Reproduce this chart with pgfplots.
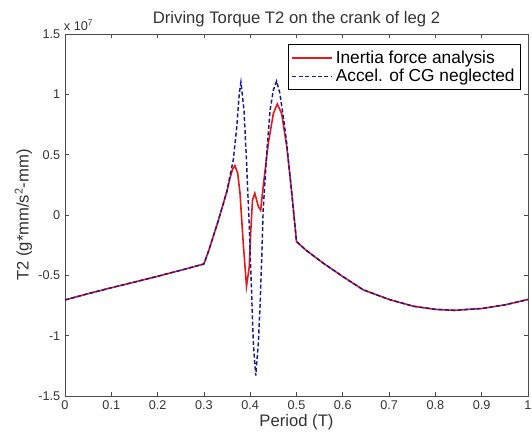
\documentclass[border=0pt]{standalone}
\usepackage{pgfplots}
\pgfplotsset{compat=1.18}
\usepackage{fontspec}
\setmainfont{Liberation Sans}

\definecolor{mred}{rgb}{0.90,0.10,0.10}
\definecolor{mblue}{rgb}{0.10,0.10,0.58}

\begin{document}
\begin{tikzpicture}
\useasboundingbox (-48.75pt,-33.75pt) rectangle (350.25pt,297pt);
\begin{axis}[
  at={(0,0)}, anchor=south west,
  scale only axis,
  width=347.25pt, height=271.5pt,
  xmin=0, xmax=1, ymin=-1.5, ymax=1.5,
  xtick={0,0.1,...,1},
  ytick={-1.5,-1,...,1.5},
  xticklabels={0,0.1,0.2,0.3,0.4,0.5,0.6,0.7,0.8,0.9,1},
  yticklabels={-1.5,-1,-0.5,0,0.5,1,1.5},
  tick align=inside, tick pos=both,
  major tick length=3pt,
  tick style={black!70, line width=0.5pt},
  axis line style={black!70, line width=0.6pt},
  ticklabel style={font=\fontsize{9.5}{11}\selectfont, text=black!80},
  xlabel={Period (T)},
  ylabel={T2 (g*mm/s$^{\mathsf{2}}$-mm)},
  label style={font=\fontsize{12.5}{14}\selectfont, text=black!80},
  xlabel style={yshift=3pt},
  ylabel style={yshift=-2pt},
  title={Driving Torque T2 on the crank of leg 2},
  title style={font=\fontsize{12.5}{14}\selectfont, text=black!80, yshift=-4pt},
  legend style={at={(0.985,0.972)}, anchor=north east, draw=black, line width=0.6pt,
    font=\fontsize{13}{15}\selectfont, row sep=-1pt, inner sep=2.5pt},
  legend cell align=left,
  legend image code/.code={\draw[#1] (0cm,0cm) -- (1.05cm,0cm);},
  clip=true,
]

\addplot[mred, line width=1.2pt] coordinates {
  (0,-0.704) (0.05,-0.652) (0.1,-0.603) (0.15,-0.556) (0.2,-0.508)
  (0.25,-0.458) (0.3,-0.406)
  (0.31,-0.30) (0.32,-0.18) (0.33,-0.06) (0.342,0.096) (0.35,0.20)
  (0.356,0.30) (0.362,0.38) (0.367,0.41) (0.373,0.345) (0.378,0.18)
  (0.385,-0.235) (0.392,-0.59) (0.398,-0.43) (0.401,-0.15) (0.405,0.124)
  (0.410,0.18) (0.4176,0.07) (0.4226,0.04) (0.428,0.235) (0.439,0.59)
  (0.45,0.84) (0.4585,0.92) (0.468,0.84) (0.479,0.566) (0.49,0.18)
  (0.5,-0.22)
  (0.52,-0.29) (0.558,-0.40) (0.6,-0.51) (0.644,-0.62) (0.7,-0.70)
  (0.752,-0.756) (0.8,-0.782) (0.84,-0.79) (0.9,-0.775) (0.95,-0.745)
  (1.0,-0.70)
};

\addplot[mblue, line width=1.1pt, dash pattern=on 3pt off 1.8pt] coordinates {
  (0,-0.704) (0.05,-0.652) (0.1,-0.603) (0.15,-0.556) (0.2,-0.508)
  (0.25,-0.458) (0.3,-0.406)
  (0.31,-0.30) (0.32,-0.18) (0.33,-0.06) (0.342,0.096) (0.35,0.20)
  (0.356,0.32) (0.3635,0.456) (0.371,0.73) (0.3765,1.01) (0.38,1.10)
  (0.3866,0.87) (0.392,0.45) (0.398,-0.097) (0.403,-0.64) (0.4067,-1.06)
  (0.412,-1.33) (0.4176,-1.06) (0.421,-0.78) (0.4248,-0.373) (0.428,0.04)
  (0.4356,0.51) (0.443,0.87) (0.45,1.036) (0.457,1.11) (0.464,1.01)
  (0.4715,0.815) (0.479,0.59) (0.4896,0.18) (0.5,-0.22)
  (0.52,-0.29) (0.558,-0.40) (0.6,-0.51) (0.644,-0.62) (0.7,-0.70)
  (0.752,-0.756) (0.8,-0.782) (0.84,-0.79) (0.9,-0.775) (0.95,-0.745)
  (1.0,-0.70)
};

\legend{Inertia force analysis, Accel. of CG neglected}
\end{axis}
\node[anchor=south west, inner sep=0pt, font=\fontsize{9.5}{11}\selectfont, text=black!80]
  at (-1pt,274pt) {x 10$^{\mathsf{7}}$};
\end{tikzpicture}
\end{document}
